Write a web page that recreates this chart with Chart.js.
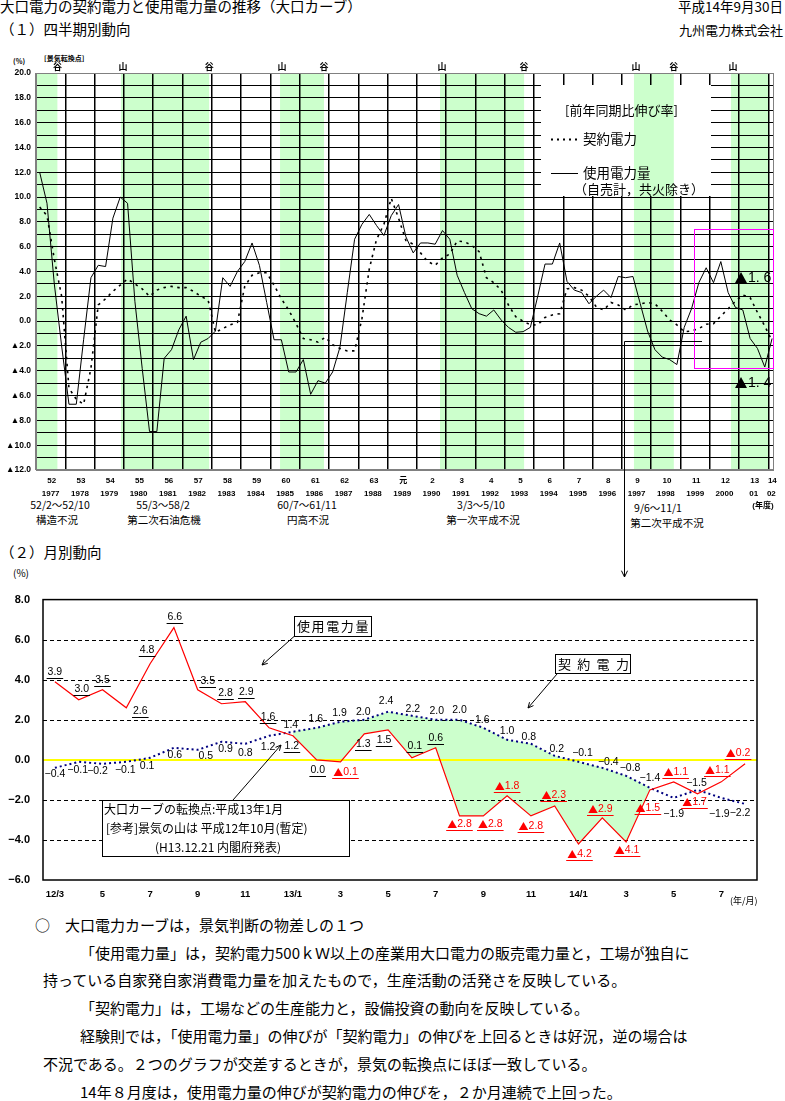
<!DOCTYPE html>
<html lang="ja"><head><meta charset="utf-8">
<script src="https://cdn.jsdelivr.net/npm/chart.js@4.4.1/dist/chart.umd.min.js"></script>
<style>
html,body{margin:0;padding:0;background:#fff}
body{width:785px;height:1101px;position:relative;overflow:hidden;font-family:'Noto Sans CJK JP','Noto Sans',sans-serif;color:#000}
.t{position:absolute;white-space:nowrap;line-height:1}
.c{transform:translateX(-50%)}
#c1{position:absolute;left:0;top:0;z-index:2}
#c2{position:absolute;left:0;top:580px;z-index:1}
</style></head><body>
<div class="t" style="left:0;top:-1px;font-size:14.5px">大口電力の契約電力と使用電力量の推移（大口カーブ）</div>
<div class="t" style="right:2px;top:0;font-size:13.5px">平成14年9月30日</div>
<div class="t" style="left:0;top:22px;font-size:14.5px">（１）四半期別動向</div>
<div class="t" style="right:2px;top:23px;font-size:13px">九州電力株式会社</div>
<div class="t" style="left:13px;top:58px;font-size:7px;font-weight:bold">(%)</div>
<div class="t" style="left:44px;top:55px;font-size:7px;font-weight:bold">[景気転換点]</div>

<div class="t c" style="left:60px;top:500px;font-size:10.5px">52/2～52/10</div>
<div class="t c" style="left:57px;top:515px;font-size:10.5px">構造不況</div>
<div class="t c" style="left:163px;top:500px;font-size:10.5px">55/3～58/2</div>
<div class="t c" style="left:164px;top:515px;font-size:10.5px">第二次石油危機</div>
<div class="t c" style="left:307px;top:500px;font-size:10.5px">60/7～61/11</div>
<div class="t c" style="left:308px;top:515px;font-size:10.5px">円高不況</div>
<div class="t c" style="left:481px;top:500px;font-size:10.5px">3/3～5/10</div>
<div class="t c" style="left:483px;top:515px;font-size:10.5px">第一次平成不況</div>
<div class="t c" style="left:658px;top:503px;font-size:10.5px">9/6～11/1</div>
<div class="t c" style="left:667px;top:518px;font-size:10.5px">第二次平成不況</div>

<div class="t" style="left:0;top:545px;font-size:14.5px">（２）月別動向</div>
<div class="t" style="left:13px;top:568px;font-size:10px">(%)</div>

<div class="t" style="left:35px;top:917px;font-size:15px">○　大口電力カーブは，景気判断の物差しの１つ</div>
<div class="t" style="left:80px;top:945px;font-size:15px">「使用電力量」は，契約電力500ｋＷ以上の産業用大口電力の販売電力量と，工場が独自に</div>
<div class="t" style="left:43px;top:972px;font-size:15px">持っている自家発自家消費電力量を加えたもので，生産活動の活発さを反映している。</div>
<div class="t" style="left:80px;top:1000px;font-size:15px">「契約電力」は，工場などの生産能力と，設備投資の動向を反映している。</div>
<div class="t" style="left:80px;top:1028px;font-size:15px">経験則では，「使用電力量」の伸びが「契約電力」の伸びを上回るときは好況，逆の場合は</div>
<div class="t" style="left:43px;top:1056px;font-size:15px">不況である。２つのグラフが交差するときが，景気の転換点にほぼ一致している。</div>
<div class="t" style="left:80px;top:1084px;font-size:15px">14年８月度は，使用電力量の伸びが契約電力の伸びを，２か月連続で上回った。</div>

<canvas id="c1" width="785" height="580"></canvas>
<canvas id="c2" width="785" height="330"></canvas>

<script>
// ===== Quarterly data (FY1977 Q1 .. FY2002 Q1) =====
const eraLabels = ['52','53','54','55','56','57','58','59','60','61','62','63','元','2','3','4','5','6','7','8','9','10','11','12','13','14'];
const yearLabels = ['1977','1978','1979','1980','1981','1982','1983','1984','1985','1986','1987','1988','1989','1990','1991','1992','1993','1994','1995','1996','1997','1998','1999','2000','01','02'];
const usageQuarterly = [
  12.0, 9.5, 3.0, -2.0, -6.7, -6.7, -1.5, 3.5, 4.5, 4.4,
  8.3, 10.0, 9.5, 1.6, -3.8, -8.9, -8.9, -3.0, -2.3, -0.7,
  0.4, -3.1, -1.7, -1.4, -0.8, 3.5, 2.8, 4.0, 4.8, 6.3,
  4.5, 1.5, -1.5, -1.5, -4.1, -4.1, -3.1, -5.9, -4.8, -5.0,
  -4.1, -2.1, 2.3, 6.6, 7.8, 8.6, 7.7, 6.9, 8.5, 9.4,
  6.8, 5.5, 6.3, 6.3, 6.2, 7.3, 6.6, 3.7, 2.3, 1.0,
  0.6, 0.4, 0.9, 0.1, -0.5, -0.9, -0.85, -0.5, 2.0, 4.6,
  4.6, 6.3, 3.2, 2.5, 2.3, 1.4, 2.0, 2.5, 1.9, 3.6,
  3.5, 3.6, 1.4, -0.8, -2.3, -2.9, -3.1, -3.5, -0.5, 1.0,
  3.1, 4.3, 3.1, 4.8, 2.3, 1.1, 0.9, -1.4, -2.2, -3.7,
  -1.4
];
const contractQuarterly = [
  9.2, 8.5, 5.0, 2.0, -5.4, -6.3, -6.7, -3.8, 1.3, 1.8,
  2.4, 2.9, 3.4, 3.0, 2.6, 2.0, 2.5, 2.7, 2.8, 2.7,
  2.7, 2.4, 2.0, 1.7, -0.9, -0.6, -0.3, -0.1, 2.8, 3.7,
  3.9, 3.9, 2.9, 1.8, 0.9, -0.2, -1.4, -1.5, -1.7, -1.3,
  -1.9, -2.2, -2.4, -2.4, 0.2, 4.2, 6.6, 7.8, 9.9, 8.3,
  6.5, 6.2, 5.5, 4.8, 4.5, 5.1, 5.4, 6.45, 6.4, 6.1,
  5.6, 3.5, 3.1, 2.5, 1.3, 0.35, 0.0, -0.3, -0.3, 0.3,
  0.5, 0.6, 2.6, 2.7, 2.5, 2.0, 1.15, 0.9, 1.5, 1.3,
  0.9, 1.3, 1.4, 1.5, 1.4, 0.8, 0.1, -0.3, -0.85, -0.8,
  -0.6, -0.25, -0.2, 0.4, 1.0, 1.6, 2.1, 1.9, 0.7, -0.4,
  -1.6
];
// recession periods, in fiscal years counted from FY1977 start
const recessionStart = [0, 2.9, 8.33, 13.79, 20.41, 23.72];
const recessionEnd   = [0.73, 5.91, 9.83, 16.66, 21.77, 25.02];

// ===== Monthly data (H12/3 .. H14/8) =====
const monthLabels = ['12/3','4','5','6','7','8','9','10','11','12','13/1','2','3','4','5','6','7','8','9','10','11','12','14/1','2','3','4','5','6','7','8'];
const usageMonthly = [3.9,3.0,3.5,2.6,4.8,6.6,3.5,2.8,2.9,1.6,1.2,0.0,-0.1,1.3,1.5,0.1,0.6,-2.8,-2.8,-1.8,-2.8,-2.3,-4.2,-2.9,-4.1,-1.5,-1.1,-1.7,-1.1,-0.2];
const contractMonthly = [-0.4,-0.1,-0.2,-0.1,0.1,0.6,0.5,0.9,0.8,1.2,1.4,1.6,1.9,2.0,2.4,2.2,2.0,2.0,1.6,1.0,0.8,0.2,-0.1,-0.4,-0.8,-1.4,-1.9,-1.5,-1.9,-2.2];

// label placement (offset of label centre from its point, px)
const usageLabelOffsets = [[0,-10],[3,-11],[0,-10],[14,3],[-3,-14],[1,-11],[10,-9],[4,-11],[1,-10],[-1,-11],[-1,10],[1,10],[5,10],[-1,10],[-4,10],[3,-12],[0,-10],[0,8],[7,8],[0,-10],[0,10],[-1,-11],[1,10],[-2,-9],[1,8],[-2,18],[2,-10],[-3,8],[-4,-12],[-7,-11]];
const contractLabelOffsets = [[0,6],[-1,8],[-5,7],[-1,8],[-3,8],[1,7],[8,6],[4,7],[0,9],[-1,11],[-2,-7],[-1,-9],[-1,-9],[-1,-8],[-2,-11],[1,-7],[1,-9],[0,-10],[-1,-8],[0,-9],[-2,-7],[2,-7],[4,-9],[6,-6],[4,-8],[0,-10],[0,16],[-1,-7],[-2,16],[-5,9]];

const GREEN = '#ccffcc';
const LAT = '"Liberation Sans", Arial, "Noto Sans CJK JP", sans-serif';
const CJK = '"Noto Sans CJK JP", sans-serif';

function arrow(ctx, x1, y1, x2, y2, head){
  const h = head || 6;
  const a = Math.atan2(y2 - y1, x2 - x1);
  ctx.beginPath(); ctx.moveTo(x1, y1); ctx.lineTo(x2, y2); ctx.stroke();
  ctx.beginPath();
  ctx.moveTo(x2 - h*Math.cos(a - 0.45), y2 - h*Math.sin(a - 0.45));
  ctx.lineTo(x2, y2);
  ctx.lineTo(x2 - h*Math.cos(a + 0.45), y2 - h*Math.sin(a + 0.45));
  ctx.stroke();
}
function drawBands(ctx, x, a){
  ctx.fillStyle = GREEN;
  recessionStart.forEach((s, i) => {
    const x0 = x.getPixelForValue(s);
    const x1 = Math.min(x.getPixelForValue(recessionEnd[i]), a.right);
    ctx.fillRect(x0, a.top, x1 - x0, a.bottom - a.top);
  });
}

const topPlugin = {
  id: 'topDeco',
  beforeDraw(chart){
    const {ctx, chartArea: a, scales: {x}} = chart;
    ctx.save(); drawBands(ctx, x, a); ctx.restore();
  },
  afterDraw(chart){
    const {ctx, chartArea: a, scales: {x, y}} = chart;
    ctx.save();
    ctx.strokeStyle = '#808080'; ctx.lineWidth = 1;
    ctx.strokeRect(a.left + 0.5, a.top + 0.5, a.right - a.left - 1, a.bottom - a.top - 1);

    // legend box
    ctx.fillStyle = '#fff'; ctx.fillRect(541, 85, 170, 111);
    ctx.save(); ctx.beginPath(); ctx.rect(541, 85, 170, 111); ctx.clip(); drawBands(ctx, x, a); ctx.restore();
    ctx.fillStyle = '#000'; ctx.textBaseline = 'middle'; ctx.textAlign = 'left';
    ctx.font = '13px ' + CJK;
    ctx.fillText('[前年同期比伸び率]', 565, 110);
    ctx.font = '13.5px ' + CJK;
    ctx.fillText('契約電力', 583, 139);
    ctx.fillText('使用電力量', 583, 173);
    ctx.font = '13px ' + CJK;
    ctx.fillText('（自売計，共火除き）', 574, 189);
    ctx.strokeStyle = '#000';
    ctx.lineWidth = 2; ctx.setLineDash([2, 4]);
    ctx.beginPath(); ctx.moveTo(551, 139.5); ctx.lineTo(580, 139.5); ctx.stroke();
    ctx.setLineDash([]); ctx.lineWidth = 1;
    ctx.beginPath(); ctx.moveTo(551, 173.5); ctx.lineTo(578, 173.5); ctx.stroke();

    // peaks / troughs
    ctx.font = 'bold 9px ' + CJK; ctx.textAlign = 'center';
    recessionStart.forEach((s, i) => {
      if (s > 0) ctx.fillText('山', x.getPixelForValue(s) + 2, 67);
      if (recessionEnd[i] < 25) ctx.fillText('谷', x.getPixelForValue(recessionEnd[i]), 67);
    });

    // year labels
    ctx.font = 'bold 8px ' + LAT;
    eraLabels.forEach((lab, i) => {
      const v = i < eraLabels.length - 1 ? i + 0.5 : i + 0.1;
      const px = x.getPixelForValue(v);
      ctx.fillText(lab, px + 1, 481);
      ctx.fillText(yearLabels[i], px, 494);
    });
    ctx.fillText('(年度)', 763, 506);

    // magenta box
    ctx.strokeStyle = '#ff00ff'; ctx.lineWidth = 1;
    ctx.strokeRect(694.5, 229.5, 79, 139);

    // latest-value notes
    ctx.fillStyle = '#000';
    [[278, '1. 6'], [383, '1. 4']].forEach(([ty, txt]) => {
      ctx.beginPath(); ctx.moveTo(741, ty - 6); ctx.lineTo(747, ty + 5); ctx.lineTo(735, ty + 5); ctx.closePath(); ctx.fill();
      ctx.font = '14px ' + LAT; ctx.textAlign = 'left';
      ctx.fillText(txt, 748, ty);
    });

    // connector to monthly chart
    ctx.strokeStyle = '#000'; ctx.lineWidth = 1;
    ctx.beginPath(); ctx.moveTo(702, 341.5); ctx.lineTo(624.5, 341.5); ctx.lineTo(624.5, 577); ctx.stroke();
    arrow(ctx, 624.5, 560, 624.5, 577, 7);
    ctx.restore();
  }
};

const fmtTop = v => v < 0 ? '▲' + Math.abs(v).toFixed(1) : v.toFixed(1);

new Chart(document.getElementById('c1'), {
  type: 'line',
  data: { datasets: [
    { label: '使用電力量', data: usageQuarterly.map((v, k) => ({x: k/4 + 0.125, y: v})),
      borderColor: '#000', borderWidth: 1, pointRadius: 0, fill: false, tension: 0 },
    { label: '契約電力', data: contractQuarterly.map((v, k) => ({x: k/4 + 0.125, y: v})),
      borderColor: '#000', borderWidth: 1.6, borderDash: [2.5, 4.5], pointRadius: 0, fill: false, tension: 0 }
  ]},
  options: {
    responsive: false, animation: false, devicePixelRatio: 1,
    layout: { padding: { top: 73, right: 11, left: 0, bottom: 0 } },
    plugins: { legend: { display: false }, tooltip: { enabled: false } },
    scales: {
      x: { type: 'linear', min: 0, max: 25.19,
        afterBuildTicks: s => { s.ticks = yearLabels.map((_, i) => ({value: i})); },
        ticks: { display: false },
        grid: { color: c => (c.tick && c.tick.value === 0) ? '#808080' : '#000', lineWidth: 1.5, drawTicks: false },
        border: { display: false },
        afterFit: s => { s.height = 110; } },
      y: { min: -12, max: 20,
        afterBuildTicks: s => { const t = []; for (let v = -12; v <= 20; v++) t.push({value: v}); s.ticks = t; },
        ticks: { autoSkip: false, padding: 5, color: '#000', font: { size: 8.5, weight: 'bold', family: LAT },
          callback: v => (v % 2 === 0 ? fmtTop(v) : '') },
        grid: { color: c => (c.tick && (c.tick.value === 20 || c.tick.value === -12)) ? '#808080' : '#000', lineWidth: 1, drawTicks: false },
        border: { display: false },
        afterFit: s => { s.width = 36; } }
    }
  },
  plugins: [topPlugin]
});

// ===== Monthly chart =====
const fillMask = contractMonthly.map((v, i) => v >= usageMonthly[i] ? v : null);

const bottomPlugin = {
  id: 'bottomDeco',
  afterDatasetDraw(chart, args){
    if (args.index !== 0) return;
    const {ctx, chartArea: a, scales: {y}} = chart;
    ctx.save();
    ctx.strokeStyle = '#000'; ctx.lineWidth = 1; ctx.setLineDash([4, 3]);
    [6, 4, 2, -2, -4].forEach(v => {
      const py = Math.round(y.getPixelForValue(v)) + 0.5;
      ctx.beginPath(); ctx.moveTo(a.left, py); ctx.lineTo(a.right, py); ctx.stroke();
    });
    ctx.setLineDash([]);
    ctx.strokeStyle = '#ffff00'; ctx.lineWidth = 2;
    const z = Math.round(y.getPixelForValue(0));
    ctx.beginPath(); ctx.moveTo(a.left, z); ctx.lineTo(a.right, z); ctx.stroke();
    ctx.restore();
  },
  afterDraw(chart){
    const {ctx, chartArea: a, scales: {x, y}} = chart;
    ctx.save();
    ctx.strokeStyle = '#000'; ctx.lineWidth = 1.5;
    ctx.strokeRect(a.left, a.top, a.right - a.left, a.bottom - a.top);

    ctx.textBaseline = 'middle'; ctx.textAlign = 'left';
    const numFont = '10.5px ' + LAT, triFont = '10px ' + CJK;
    // usage labels
    usageMonthly.forEach((v, i) => {
      const [dx, dy] = usageLabelOffsets[i];
      const cx = x.getPixelForValue(i) + dx, cy = y.getPixelForValue(v) + dy;
      const neg = v < 0;
      const num = neg ? Math.abs(v).toFixed(1) : v.toFixed(1);
      const col = neg ? '#ff0000' : '#000';
      ctx.font = numFont; const wn = ctx.measureText(num).width;
      ctx.font = triFont; const wt = neg ? ctx.measureText('▲').width : 0;
      const w = wn + wt, left = cx - w/2;
      ctx.fillStyle = col; ctx.strokeStyle = col; ctx.lineWidth = 1;
      if (neg) { ctx.font = triFont; ctx.fillText('▲', left, cy); }
      ctx.font = numFont; ctx.fillText(num, left + wt, cy);
      const uy = Math.round(cy + 6) + 0.5;
      ctx.beginPath(); ctx.moveTo(left - 1, uy); ctx.lineTo(left + w + 1, uy); ctx.stroke();
    });
    // contract labels
    ctx.fillStyle = '#000'; ctx.textAlign = 'center'; ctx.font = numFont;
    contractMonthly.forEach((v, i) => {
      const [dx, dy] = contractLabelOffsets[i];
      const cx = x.getPixelForValue(i) + dx, cy = y.getPixelForValue(v) + dy;
      const txt = v < 0 ? '−' + Math.abs(v).toFixed(1) : v.toFixed(1);
      ctx.fillText(txt, cx, cy);
    });

    // annotation boxes
    ctx.strokeStyle = '#000'; ctx.lineWidth = 1; ctx.fillStyle = '#fff';
    ctx.fillRect(294.5, 36.5, 77, 20); ctx.strokeRect(294.5, 36.5, 77, 20);
    ctx.fillRect(555.5, 74.5, 75, 19); ctx.strokeRect(555.5, 74.5, 75, 19);
    ctx.fillRect(102.5, 220.5, 247, 56); ctx.strokeRect(102.5, 220.5, 247, 56);
    ctx.fillStyle = '#000'; ctx.textAlign = 'left';
    ctx.font = '13px ' + CJK;
    '使用電力量'.split('').forEach((ch, i) => ctx.fillText(ch, 297 + i*14.6, 46.5));
    '契約電力'.split('').forEach((ch, i) => ctx.fillText(ch, 558 + i*19.3, 84));
    ctx.font = '12px ' + CJK;
    ctx.fillText('大口カーブの転換点:平成13年1月', 104, 229.5);
    ctx.fillText('[参考]景気の山は 平成12年10月(暫定)', 106, 248.5);
    ctx.fillText('(H13.12.21 内閣府発表)', 155, 267.5);
    arrow(ctx, 294, 56.5, 262, 85, 6);
    arrow(ctx, 557, 94, 528, 128, 6);
    arrow(ctx, 233, 220, 281, 165, 6);

    ctx.font = '9px ' + CJK; ctx.textAlign = 'left';
    ctx.fillText('(年/月)', 730, 321);
    ctx.restore();
  }
};

new Chart(document.getElementById('c2'), {
  type: 'line',
  data: { labels: monthLabels, datasets: [
    { label: 'mask', data: fillMask, borderColor: 'rgba(0,0,0,0)', borderWidth: 0, pointRadius: 0, tension: 0,
      fill: { target: 1, above: GREEN, below: 'rgba(0,0,0,0)' }, order: 3 },
    { label: '使用電力量', data: usageMonthly, borderColor: '#ff0000', borderWidth: 1.2, pointRadius: 0, fill: false, tension: 0, order: 1 },
    { label: '契約電力', data: contractMonthly, borderColor: '#000080', borderWidth: 2, borderDash: [2, 3], pointRadius: 0, fill: false, tension: 0, order: 2 }
  ]},
  options: {
    responsive: false, animation: false, devicePixelRatio: 1,
    layout: { padding: { top: 7, right: 28, left: 0, bottom: 0 } },
    plugins: { legend: { display: false }, tooltip: { enabled: false } },
    scales: {
      x: { type: 'category', offset: true,
        grid: { display: false, drawTicks: false }, border: { display: false },
        ticks: { autoSkip: false, maxRotation: 0, padding: 9, color: '#000', font: { size: 9.5, weight: 'bold', family: LAT },
          callback: (val, i) => (i % 2 === 0 ? monthLabels[i] : '') },
        afterFit: s => { s.height = 30; } },
      y: { min: -6, max: 8,
        ticks: { stepSize: 2, padding: 13, color: '#000', font: { size: 11, weight: 'bold', family: LAT },
          callback: v => (v < 0 ? '−' + Math.abs(v).toFixed(1) : v.toFixed(1)) },
        grid: { display: false, drawTicks: false }, border: { display: false },
        afterFit: s => { s.width = 43; } }
    }
  },
  plugins: [bottomPlugin]
});
</script>
</body></html>
